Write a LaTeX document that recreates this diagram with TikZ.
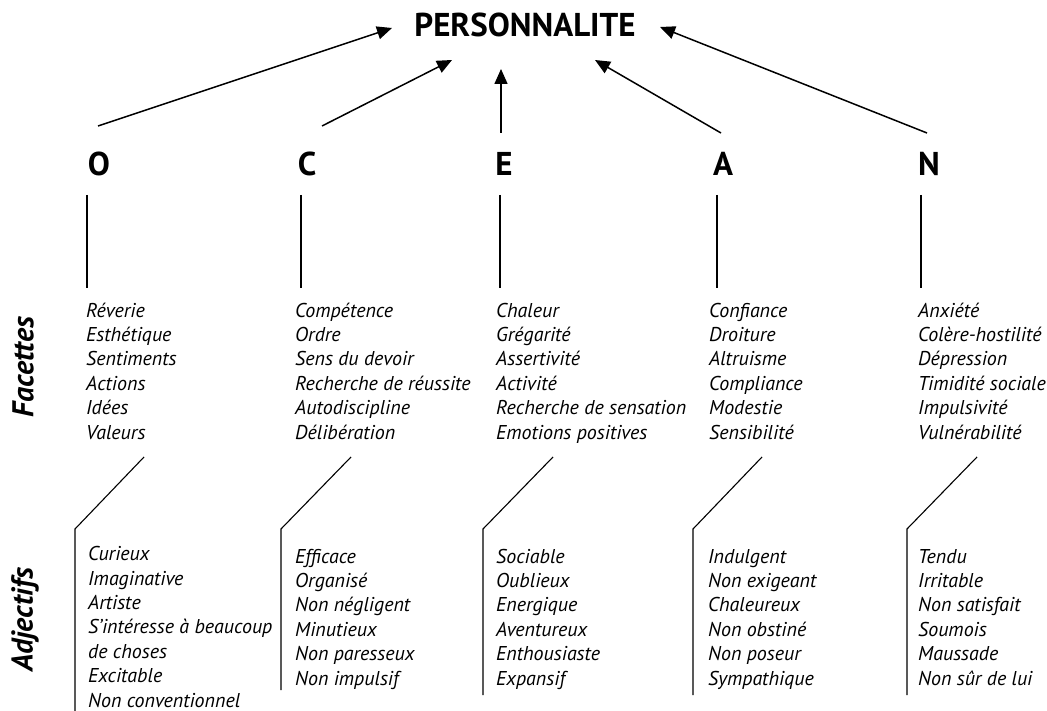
\documentclass[tikz,border=0pt]{standalone}
\usepackage{fontspec}
\setmainfont{PT Sans}
\usetikzlibrary{positioning,arrows.meta,calc}

\begin{document}
\begin{tikzpicture}[x=1pt,y=-1pt,
    every edge/.style={draw,line width=1.5pt,-{Triangle[length=15pt,width=13pt]}}]
  \tikzstyle{big} = [font=\fontsize{33}{33}\selectfont\bfseries,inner sep=0pt,anchor=base]
  \tikzstyle{lst} = [font=\fontsize{20}{24.4}\selectfont\itshape,align=left,inner sep=0pt,anchor=base west]
  \tikzstyle{side} = [font=\fontsize{30}{30}\selectfont\bfseries\itshape,rotate=90,inner sep=0pt]
  \tikzstyle{ln} = [draw,line width=1.1pt]
  \useasboundingbox (0,0) rectangle (1047,711);
  % the top
  \node[big](pers) at (525,37){PERSONNALITE};
  \node[big](O) at (99,176){O};\node[big](C) at (307,176){C};\node[big](E) at (504,176){E};
  \node[big](A) at (723,176){A};\node[big](N) at (929,176){N};
  % the side labels
  \node[side](fac) at (23,367){Facettes};
  \node[side](adj) at (25,620){Adjectifs};
  % the arrows
  \coordinate(o1) at (98,126);\coordinate(o2) at (392,28);
  \coordinate(c1) at (322,126);\coordinate(c2) at (452,60);
  \coordinate(e1) at (501,133);\coordinate(e2) at (501,69);
  \coordinate(a1) at (721,133);\coordinate(a2) at (595,60);
  \coordinate(n1) at (927,133);\coordinate(n2) at (660,27);
  \draw (o1)edge(o2) (c1)edge(c2) (e1)edge(e2) (a1)edge(a2) (n1)edge(n2);
  % the facettes (placed by their last line)
  \node[lst](fO) at (86,439){Réverie\\Esthétique\\Sentiments\\Actions\\Idées\\Valeurs};
  \node[lst](fC) at (295,439){Compétence\\Ordre\\Sens du devoir\\Recherche de réussite\\Autodiscipline\\Délibération};
  \node[lst](fE) at (496,439){Chaleur\\Grégarité\\Assertivité\\Activité\\Recherche de sensation\\Emotions positives};
  \node[lst](fA) at (709,439){Confiance\\Droiture\\Altruisme\\Compliance\\Modestie\\Sensibilité};
  \node[lst](fN) at (918,439){Anxiété\\Colère-hostilité\\Dépression\\Timidité sociale\\Impulsivité\\Vulnérabilité};
  % the adjectifs
  \node[lst](aO) at (88,707){Curieux\\Imaginative\\Artiste\\S’intéresse à beaucoup\\de choses\\Excitable\\Non conventionnel};
  \node[lst](aC) at (295,685){Efficace\\Organisé\\Non négligent\\Minutieux\\Non paresseux\\Non impulsif};
  \node[lst](aE) at (496,685){Sociable\\Oublieux\\Energique\\Aventureux\\Enthousiaste\\Expansif};
  \node[lst](aA) at (708,685){Indulgent\\Non exigeant\\Chaleureux\\Non obstiné\\Non poseur\\Sympathique};
  \node[lst](aN) at (918,685){Tendu\\Irritable\\Non satisfait\\Soumois\\Maussade\\Non sûr de lui};
  % letter to facettes
  \draw[ln] (87,195)--(87,288) (301,195)--(301,288) (500,195)--(500,288)
            (717,195)--(717,288) (921,195)--(921,288);
  % facettes to adjectifs
  \draw[ln] (144,457)--(75,529)--(75,711);
  \draw[ln] (351,457)--(281,529)--(281,690);
  \draw[ln] (553,457)--(483,529)--(483,695);
  \draw[ln] (762,457)--(693,529)--(693,695);
  \draw[ln] (977,457)--(907,529)--(907,695);
\end{tikzpicture}
\end{document}
